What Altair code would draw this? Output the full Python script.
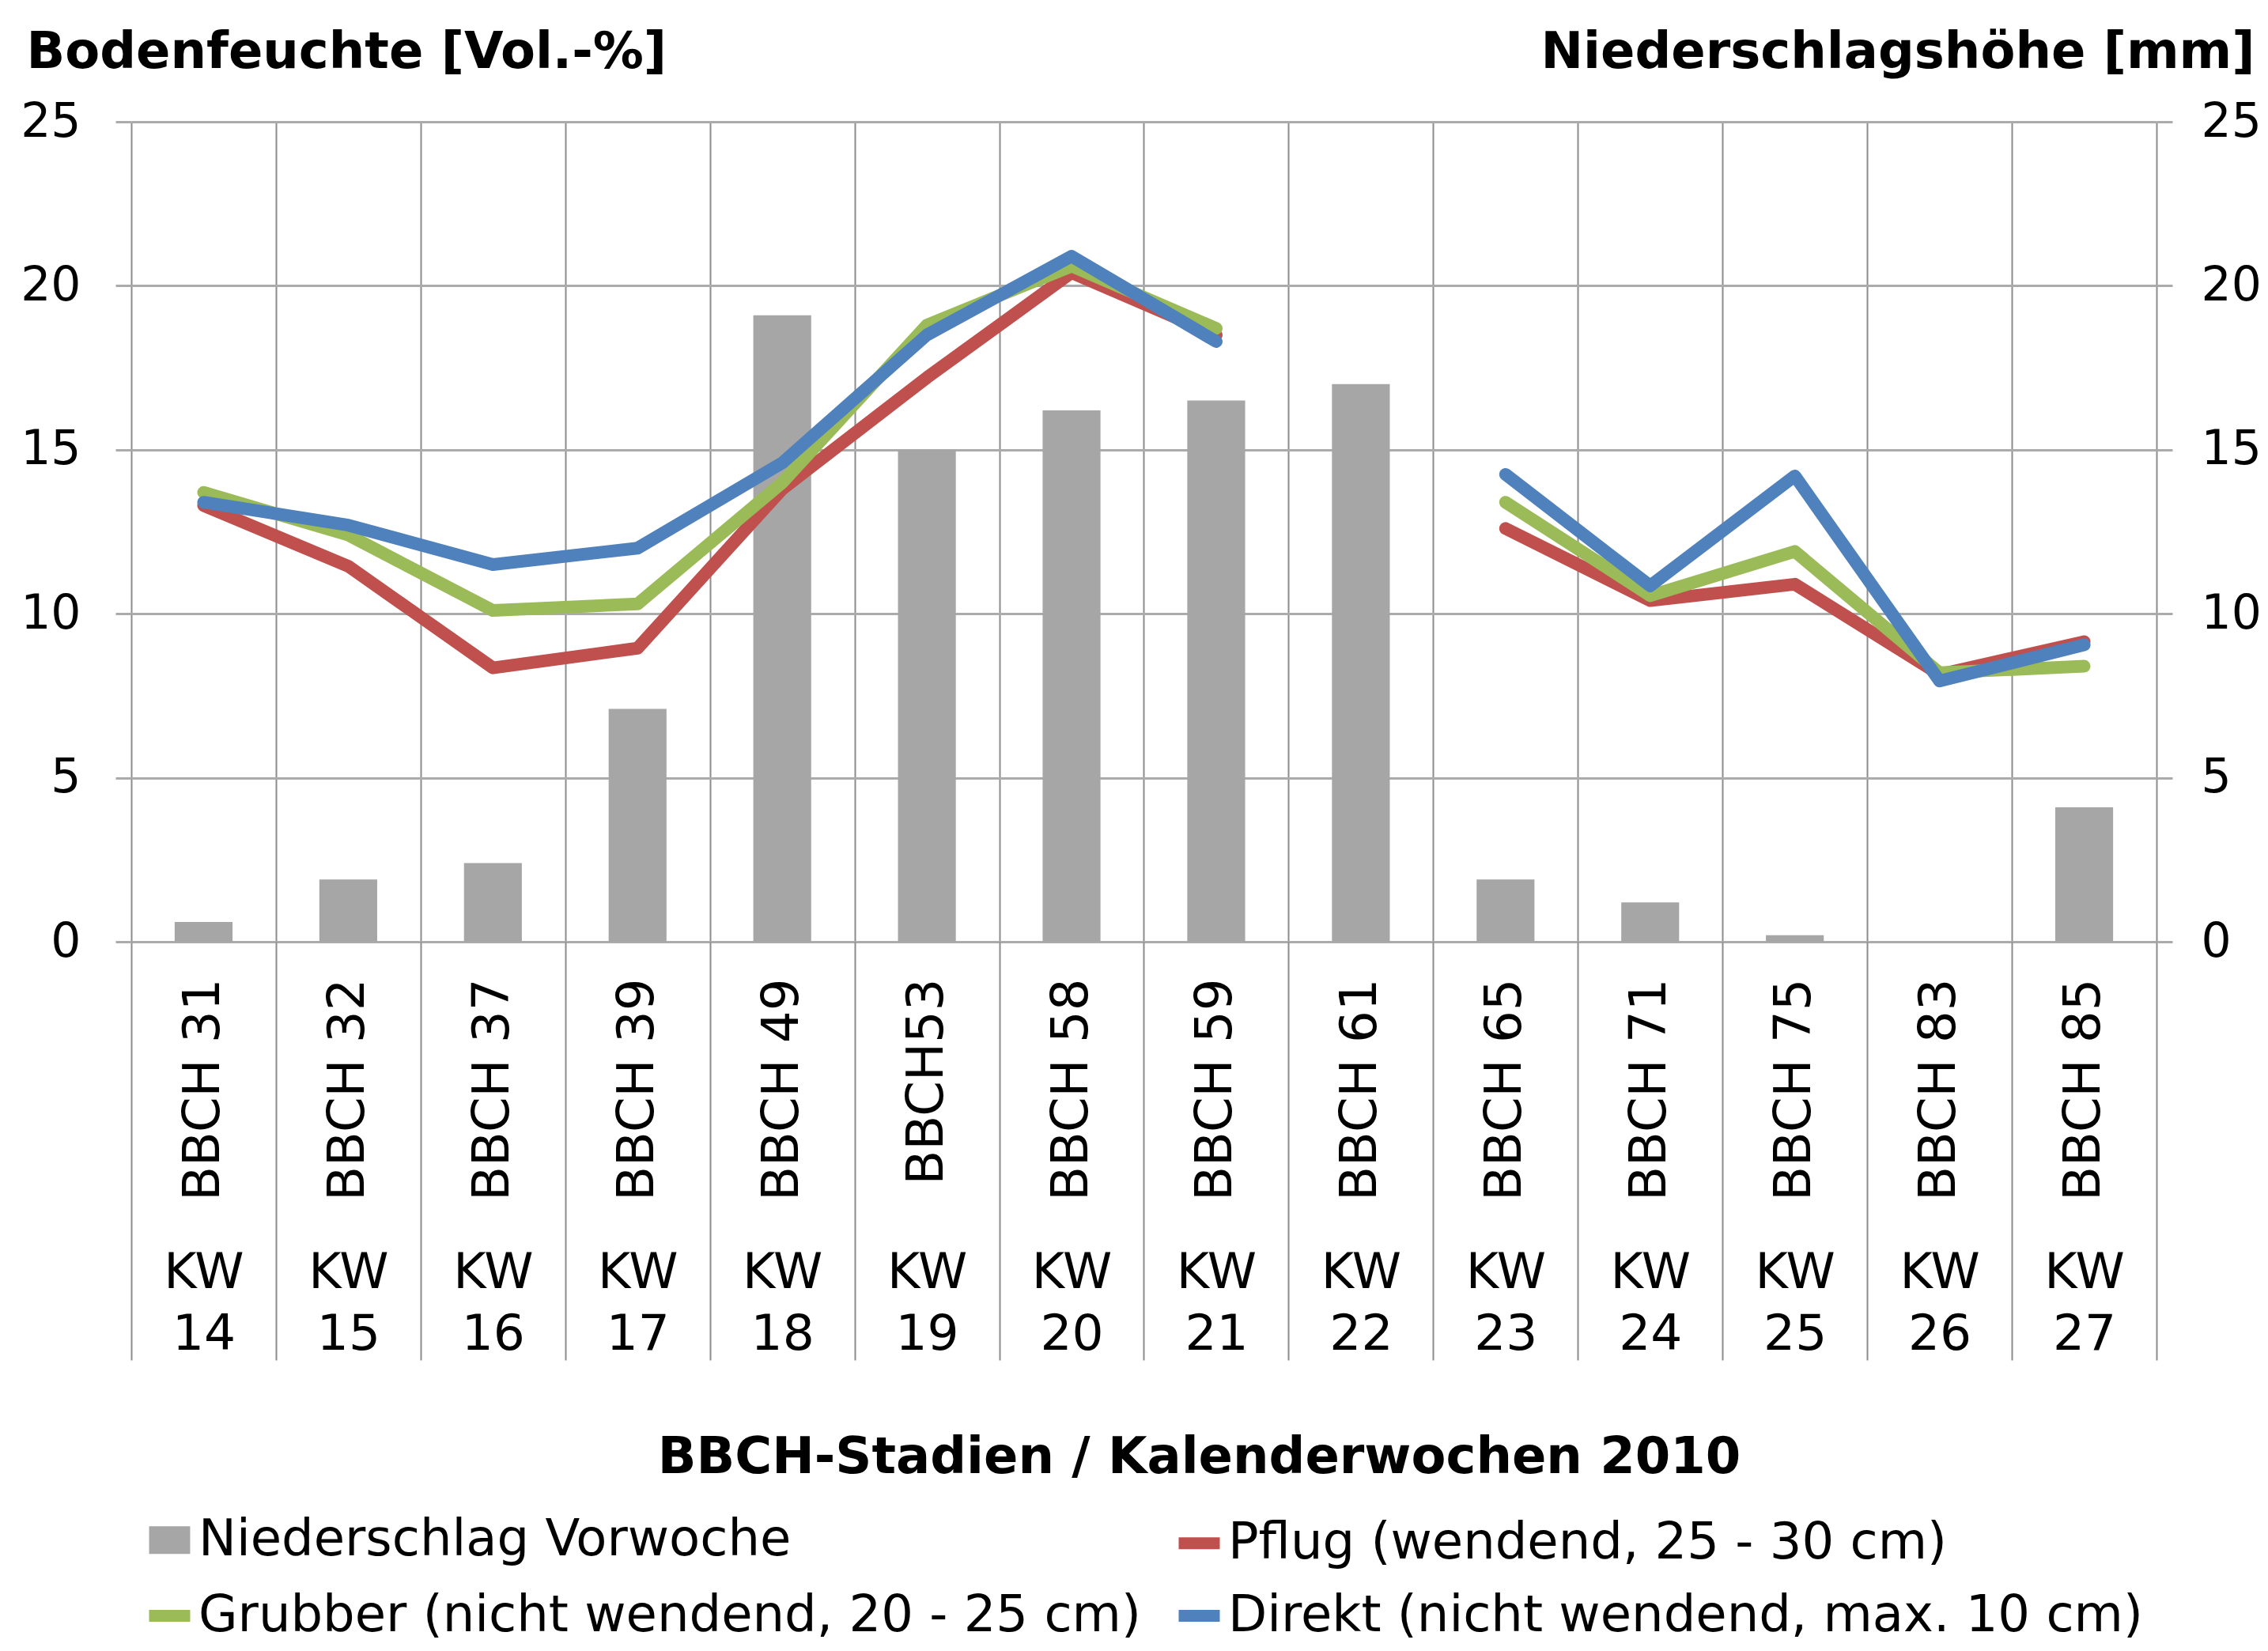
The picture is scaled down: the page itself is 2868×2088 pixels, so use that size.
import altair as alt
import pandas as pd

FONT = "DejaVu Sans"

bbch = ["BBCH 31", "BBCH 32", "BBCH 37", "BBCH 39", "BBCH 49", "BBCH53", "BBCH 58",
        "BBCH 59", "BBCH 61", "BBCH 65", "BBCH 71", "BBCH 75", "BBCH 83", "BBCH 85"]
kw = [14, 15, 16, 17, 18, 19, 20, 21, 22, 23, 24, 25, 26, 27]

niederschlag = [0.6, 1.9, 2.4, 7.1, 19.1, 15.0, 16.2, 16.5, 17.0, 1.9, 1.2, 0.2, 0.0, 4.1]
pflug = [13.3, 11.45, 8.35, 8.95, 13.8, 17.2, 20.4, 18.5, None, 12.6, 10.4, 10.9, 8.15, 9.15]
grubber = [13.7, 12.4, 10.1, 10.3, 14.0, 18.8, 20.6, 18.7, None, 13.4, 10.55, 11.9, 8.2, 8.4]
direkt = [13.4, 12.7, 11.5, 12.0, 14.6, 18.5, 20.9, 18.3, None, 14.25, 10.85, 14.2, 7.95, 9.05]

series_names = ["Niederschlag Vorwoche", "Pflug (wendend, 25 - 30 cm)",
                "Grubber (nicht wendend, 20 - 25 cm)", "Direkt (nicht wendend, max. 10 cm)"]
series_colors = ["#A6A6A6", "#C0504D", "#9BBB59", "#4F81BD"]

keys = [f"{b}|KW {k}" for b, k in zip(bbch, kw)]

bar_df = pd.DataFrame({"key": keys, "wert": niederschlag, "serie": series_names[0]})
rows = []
for name, vals in zip(series_names[1:], [pflug, grubber, direkt]):
    for k, v in zip(keys, vals):
        rows.append({"key": k, "wert": v, "serie": name})
line_df = pd.DataFrame(rows)

color_scale = alt.Scale(domain=series_names, range=series_colors)
x_scale = alt.Scale(paddingInner=0, paddingOuter=0)
ticks_y = [0, 5, 10, 15, 20, 25]

is_bar = "datum.value === 'Niederschlag Vorwoche'"
legend = alt.Legend(
    title=None, orient="none", legendX=15, legendY=1760, columns=2, direction="horizontal",
    labelFont=FONT, labelFontSize=64, labelColor="black", labelOffset=3, labelLimit=3000,
    symbolSize=2704, columnPadding=17, rowPadding=22, padding=0,
    symbolType=alt.ExprRef(expr=f"{is_bar} ? 'M-0.71,-0.385H0.71V0.385H-0.71Z' : 'M-1,0H1'"),
    symbolFillColor=alt.ExprRef(expr=f"{is_bar} ? scale('color', datum.value) : 'transparent'"),
    symbolStrokeColor=alt.ExprRef(expr="scale('color', datum.value)"),
    symbolStrokeWidth=15, symbolOpacity=1,
)

guard = "indexof(datum.label, '|') < 0 ? '' : "

bars = alt.Chart(bar_df).mark_bar(width=alt.RelativeBandSize(0.4)).encode(
    x=alt.X("key:N", sort=keys, scale=x_scale, axis=alt.Axis(
        orient="bottom", title="BBCH-Stadien / Kalenderwochen 2010",
        labelExpr=guard + "split(datum.label, '|')[0]", labelAngle=270, labelAlign="right",
        labelBaseline="middle", labelPadding=46, labelFontSize=64, labelFont=FONT,
        labelColor="black", labelOverlap=False, labelLimit=1000,
        ticks=False, domain=False, grid=True, gridColor="#8C8C8C", gridWidth=2,
        tickBand="extent",
        titleFont=FONT, titleFontSize=64, titleFontWeight="bold", titleColor="black",
        titleX=1350, titleY=671, titleAlign="center", titleBaseline="alphabetic")),
    y=alt.Y("wert:Q", scale=alt.Scale(domain=[0, 25]), axis=alt.Axis(
        orient="right", values=ticks_y, title="Niederschlagshöhe [mm]", titleAngle=0,
        titleAlign="right", titleBaseline="alphabetic", titleX=124, titleY=-69,
        titleFont=FONT, titleFontSize=64, titleFontWeight="bold", titleColor="black",
        grid=False, ticks=True, tickSize=20, tickColor="#ABABAB", tickWidth=3,
        domain=False, labelPadding=36, labelFontSize=60, labelFont=FONT, labelColor="black")),
    color=alt.Color("serie:N", scale=color_scale, legend=legend),
)

lines = alt.Chart(line_df).mark_line(
    strokeWidth=16, strokeCap="round", strokeJoin="round",
    invalid="break-paths-show-domains").encode(
    x=alt.X("key:N", sort=keys, scale=x_scale, axis=alt.Axis(
        orient="bottom", title=None,
        labelExpr=guard + "split(split(datum.label, '|')[1], ' ')", labelAngle=0,
        labelAlign="center", labelBaseline="top", labelLineHeight=78,
        labelPadding=-142, labelFontSize=63, labelFont=FONT, labelColor="black",
        labelOverlap=False, labelLimit=1000,
        ticks=True, tickSize=529, tickColor="#8C8C8C", tickWidth=2, tickBand="extent",
        domain=False, grid=False)),
    y=alt.Y("wert:Q", scale=alt.Scale(domain=[0, 25]), axis=alt.Axis(
        orient="left", values=ticks_y, title="Bodenfeuchte [Vol.-%]", titleAngle=0,
        titleAlign="left", titleBaseline="alphabetic", titleX=-133, titleY=-69,
        titleFont=FONT, titleFontSize=64, titleFontWeight="bold", titleColor="black",
        grid=True, gridColor="#ABABAB", gridWidth=3, ticks=True, tickSize=20,
        tickColor="#ABABAB", tickWidth=3,
        domain=False, labelPadding=44, labelFontSize=60, labelFont=FONT, labelColor="black")),
    color=alt.Color("serie:N", scale=color_scale, legend=legend),
)

chart = alt.layer(bars, lines).resolve_scale(y="independent").resolve_axis(
    x="independent", y="independent"
).properties(
    width=2561, height=1037,
    autosize=alt.AutoSizeParams(type="none"),
    padding={"left": 158, "top": 146, "right": 133, "bottom": 889},
    background="white",
).configure_view(stroke=None)

chart.save("out.html", embed_options={"renderer": "svg", "actions": False})
